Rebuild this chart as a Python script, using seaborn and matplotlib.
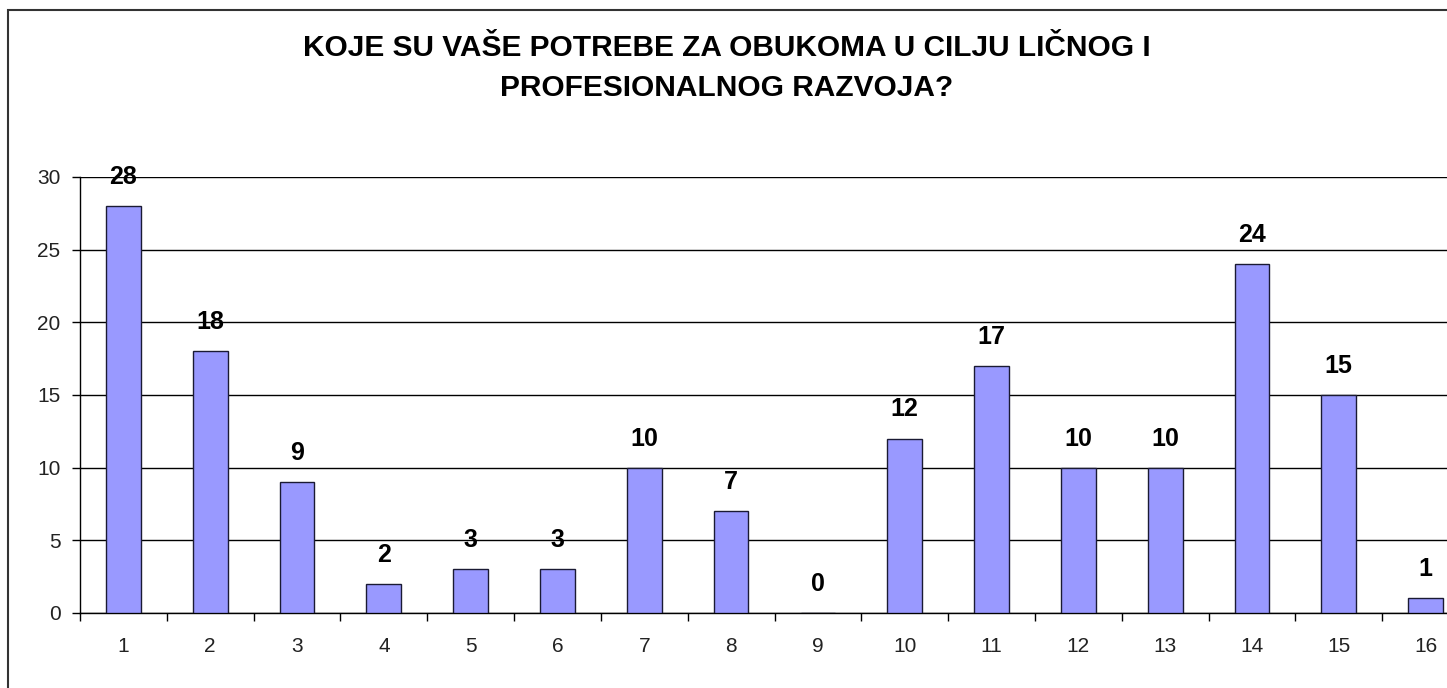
import numpy as np
import pandas as pd
import matplotlib
matplotlib.use("Agg")
import matplotlib.pyplot as plt
from matplotlib.patches import Rectangle
import seaborn as sns

categories = [str(i) for i in range(1, 17)]
counts = [28, 18, 9, 2, 3, 3, 10, 7, 0, 12, 17, 10, 10, 24, 15, 1]
title = "KOJE SU VAŠE POTREBE ZA OBUKOMA U CILJU LIČNOG I\nPROFESIONALNOG RAZVOJA?"

df = pd.DataFrame({"kategorija": categories, "broj": counts})

sns.set_style("white")
plt.rcParams["font.family"] = ["Liberation Sans", "DejaVu Sans"]

fig = plt.figure(figsize=(14.47, 6.88), dpi=100)
ax = fig.add_axes([80 / 1447, 75 / 688, 1389 / 1447, 436 / 688])

sns.barplot(data=df, x="kategorija", y="broj", order=categories, color="#9999FF",
            saturation=1, width=0.4, edgecolor="#1a1a33", linewidth=1, ax=ax, zorder=3)

ax.set_xlim(-0.5, 15.5)
ax.set_ylim(0, 30)
ax.set_yticks(np.arange(0, 31, 5))
ax.yaxis.grid(True, color="black", linewidth=1)
ax.set_axisbelow(True)
ax.set_xlabel("")
ax.set_ylabel("")

for s in ["top", "right"]:
    ax.spines[s].set_visible(False)
for s in ["left", "bottom"]:
    ax.spines[s].set_color("black")
    ax.spines[s].set_linewidth(1)

ax.tick_params(axis="y", which="major", left=True, length=6, width=1, color="black",
               labelsize=15, labelcolor="#222222", pad=8)
ax.tick_params(axis="x", which="major", bottom=False, labelsize=15, labelcolor="#222222", pad=14)
ax.set_xticks(np.arange(-0.5, 16, 1), minor=True)
ax.tick_params(axis="x", which="minor", bottom=True, length=6, width=1, color="black")

for i, v in enumerate(counts):
    ax.annotate(str(v), (i, v), xytext=(0, 21), textcoords="offset points",
                ha="center", va="center", fontsize=18, fontweight="bold", color="black",
                annotation_clip=False)

fig.text(727 / 1447, 1 - 68 / 688, title, ha="center", va="center", fontsize=21.5,
         fontweight="bold", linespacing=1.55, color="black")

fig.patches.append(Rectangle((8 / 1447, -0.1), 1.2, 1 - 10 / 688 + 0.1, transform=fig.transFigure,
                             fill=False, edgecolor="#333333", linewidth=1.5))

fig.savefig("out.png", dpi=100)
